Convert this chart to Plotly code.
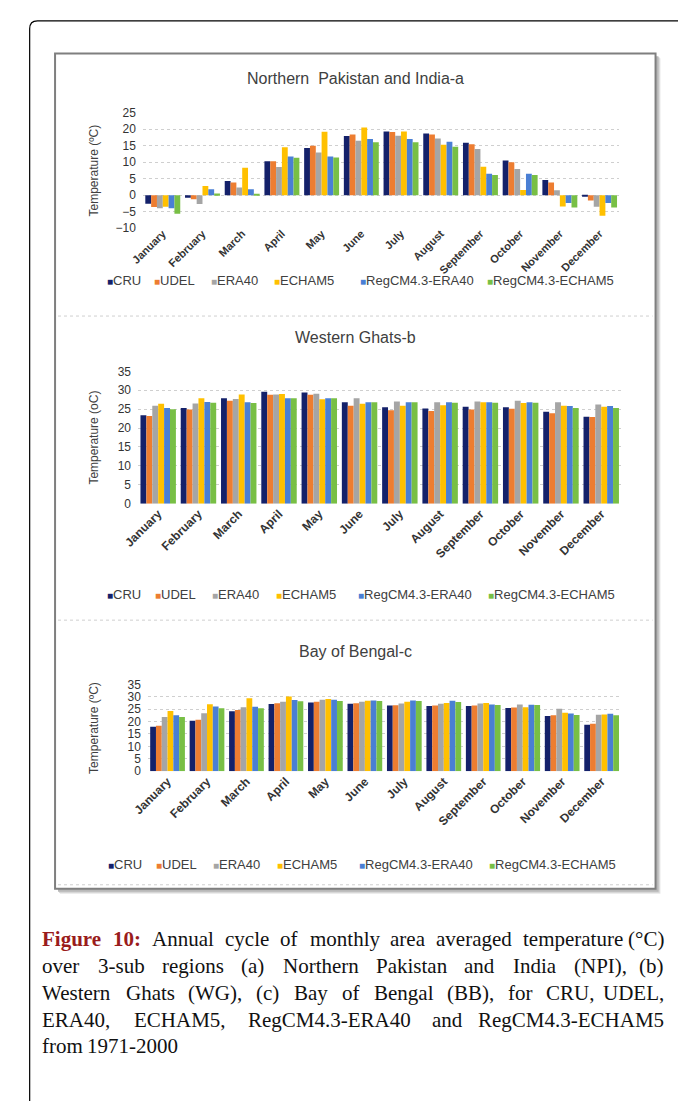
import plotly.graph_objects as go

W, H = 678, 1108


def fx(px):
    return px / W


def fy(py):
    return 1 - py / H


months = ["January", "February", "March", "April", "May", "June", "July",
          "August", "September", "October", "November", "December"]
series_names = ["CRU", "UDEL", "ERA40", "ECHAM5", "RegCM4.3-ERA40", "RegCM4.3-ECHAM5"]
series_colors = ["#14216a", "#ed7d31", "#a5a5a5", "#ffc000", "#4a7fd4", "#78bf45"]

# Northern Pakistan and India (NPI)
npi_cru = [-2.6, -0.8, 4.3, 10.3, 14.3, 17.9, 19.3, 18.7, 15.9, 10.5, 4.6, -0.4]
npi_udel = [-3.6, -1.2, 3.8, 10.3, 15.0, 18.4, 19.1, 18.4, 15.4, 10.0, 3.8, -1.6]
npi_era40 = [-4.0, -2.7, 2.3, 8.5, 12.9, 16.5, 18.0, 17.2, 14.0, 7.9, 1.5, -3.5]
npi_echam5 = [-3.5, 2.8, 8.3, 14.5, 19.2, 20.5, 19.3, 15.3, 8.6, 1.6, -3.4, -6.2]
npi_reg_era40 = [-4.0, 1.8, 1.8, 11.7, 11.7, 17.0, 17.0, 16.2, 6.5, 6.5, -2.4, -2.4]
npi_reg_echam5 = [-5.6, 0.5, 0.4, 11.3, 11.4, 16.0, 16.0, 14.7, 6.1, 6.1, -3.7, -3.7]

# Western Ghats (WG)
wg_cru = [23.4, 25.3, 27.9, 29.6, 29.4, 26.8, 25.5, 25.2, 25.6, 25.5, 24.3, 23.0]
wg_udel = [23.2, 24.9, 27.2, 28.8, 28.8, 25.9, 24.7, 24.5, 24.9, 25.1, 23.9, 22.9]
wg_era40 = [25.9, 26.5, 27.7, 28.9, 29.1, 27.9, 27.0, 26.8, 27.0, 27.2, 26.8, 26.2]
wg_echam5 = [26.4, 27.9, 28.9, 29.0, 27.6, 26.4, 25.9, 26.0, 26.8, 26.6, 25.9, 25.6]
wg_reg_era40 = [25.3, 26.9, 26.8, 27.9, 27.9, 26.8, 26.8, 26.8, 26.8, 26.8, 25.8, 25.8]
wg_reg_echam5 = [25.0, 26.7, 26.6, 27.9, 27.9, 26.8, 26.8, 26.7, 26.7, 26.7, 25.3, 25.3]

# Bay of Bengal (BB)
bb_cru = [17.9, 20.3, 24.2, 27.1, 27.7, 27.2, 26.5, 26.3, 26.3, 25.5, 22.2, 18.7]
bb_udel = [18.3, 20.7, 24.7, 27.4, 28.0, 27.4, 26.6, 26.5, 26.5, 25.7, 22.5, 19.1]
bb_era40 = [21.8, 23.4, 25.8, 28.0, 28.8, 28.0, 27.3, 27.2, 27.3, 26.9, 25.2, 22.7]
bb_echam5 = [24.3, 27.0, 29.4, 30.1, 29.1, 28.4, 28.0, 27.5, 27.5, 25.8, 23.6, 22.8]
bb_reg_era40 = [22.5, 26.1, 26.0, 28.7, 28.8, 28.5, 28.5, 28.4, 26.9, 26.8, 23.2, 23.1]
bb_reg_echam5 = [21.8, 25.4, 25.4, 28.2, 28.3, 28.3, 28.3, 27.9, 26.7, 26.7, 22.6, 22.5]

caption_lines = [
    "Figure 10: Annual cycle of monthly area averaged temperature (°C)",
    "over 3-sub regions (a) Northern Pakistan and India (NPI), (b)",
    "Western Ghats (WG), (c) Bay of Bengal (BB), for CRU, UDEL,",
    "ERA40, ECHAM5, RegCM4.3-ERA40 and RegCM4.3-ECHAM5",
    "from 1971-2000",
]

panels = [
    dict(suffix="", title="Northern  Pakistan and India-a", ytitle="Temperature (ºC)",
         data=[npi_cru, npi_udel, npi_era40, npi_echam5, npi_reg_era40, npi_reg_echam5],
         xpx=(130, 618), ypx=(107, 224), yrange=[-10, 25], month_size=11, month_pad=-4,
         title_y=72, legend_y=277, legend_x=[91, 139, 198, 262, 350, 480]),
    dict(suffix="2", title="Western Ghats-b", ytitle="Temperature (oC)",
         data=[wg_cru, wg_udel, wg_era40, wg_echam5, wg_reg_era40, wg_reg_echam5],
         xpx=(125, 620), ypx=(369, 503), yrange=[0, 35], month_size=12, month_pad=0,
         title_y=335, legend_y=595, legend_x=[91, 140, 199, 264, 348, 481]),
    dict(suffix="3", title="Bay of Bengal-c", ytitle="Temperature (ºC)",
         data=[bb_cru, bb_udel, bb_era40, bb_echam5, bb_reg_era40, bb_reg_echam5],
         xpx=(135, 620), ypx=(686, 774), yrange=[0, 35], month_size=12, month_pad=0,
         title_y=653, legend_y=868, legend_x=[92, 141, 200, 265, 349, 482]),
]

AXIS_FONT = "Arial, Liberation Sans, sans-serif"
SERIF = "Liberation Serif, Times New Roman, serif"

fig = go.Figure()
annotations = []
layout_axes = {}

for p in panels:
    sfx = p["suffix"]
    for name, color, vals in zip(series_names, series_colors, p["data"]):
        fig.add_trace(go.Bar(
            x=months, y=vals, name=name, marker_color=color,
            marker_line_width=0, showlegend=False,
            xaxis="x" + sfx, yaxis="y" + sfx,
        ))
    layout_axes["xaxis" + sfx] = dict(
        domain=[fx(p["xpx"][0]), fx(p["xpx"][1])], anchor="y" + sfx,
        type="category", showgrid=False, showline=False, zeroline=False, ticks="",
        tickangle=-45, fixedrange=True, ticklabelstandoff=p["month_pad"],
        tickfont=dict(family=AXIS_FONT, size=p["month_size"], color="#333333",
                      weight="bold"),
    )
    layout_axes["yaxis" + sfx] = dict(
        domain=[fy(p["ypx"][1]), fy(p["ypx"][0])], anchor="x" + sfx,
        range=p["yrange"], dtick=5, tick0=0, showline=False, zeroline=False,
        showgrid=True, gridcolor="#cfcfcf", griddash="dot", gridwidth=1,
        ticks="", ticklabelstandoff=6,
        tickfont=dict(family=AXIS_FONT, size=12, color="#333333"),
    )
    annotations.append(dict(
        text=p["title"], x=fx(348), y=fy(p["title_y"]), xref="paper", yref="paper",
        xanchor="center", yanchor="middle", showarrow=False,
        font=dict(family=AXIS_FONT, size=16, color="#404040"),
    ))
    annotations.append(dict(
        text=p["ytitle"], x=fx(80), y=fy((p["ypx"][0] + p["ypx"][1]) / 2),
        xref="paper", yref="paper", xanchor="center", yanchor="middle",
        textangle=-90, showarrow=False,
        font=dict(family=AXIS_FONT, size=12, color="#404040"),
    ))
    for name, color, lx in zip(series_names, series_colors, p["legend_x"]):
        annotations.append(dict(
            text=f"<span style='color:{color};font-size:10px'>■</span>{name}",
            x=fx(lx), y=fy(p["legend_y"]), xref="paper", yref="paper",
            xanchor="left", yanchor="middle", showarrow=False,
            font=dict(family=AXIS_FONT, size=13, color="#404040"),
        ))

# --- caption: justified lines, word positions from Times-style advance widths ---
TIMES = {
    "a": 444, "b": 500, "c": 444, "d": 500, "e": 444, "f": 333, "g": 500, "h": 500,
    "i": 278, "j": 278, "k": 500, "l": 278, "m": 778, "n": 500, "o": 500, "p": 500,
    "q": 500, "r": 333, "s": 389, "t": 278, "u": 500, "v": 500, "w": 722, "x": 500,
    "y": 500, "z": 444, "A": 722, "B": 667, "C": 667, "D": 722, "E": 611, "F": 556,
    "G": 722, "H": 722, "I": 333, "J": 389, "K": 722, "L": 611, "M": 889, "N": 722,
    "O": 722, "P": 556, "Q": 722, "R": 667, "S": 556, "T": 611, "U": 722, "V": 722,
    "W": 944, "X": 722, "Y": 722, "Z": 611, "(": 333, ")": 333, ",": 250, ".": 250,
    "-": 333, ":": 278, "°": 400,
}
TIMES_BOLD = {"F": 611, "i": 278, "g": 500, "u": 556, "r": 444, "e": 444, ":": 333}
CAP_SIZE = 21
CAP_LEFT, CAP_RIGHT = 25, 666
CAP_TOP, CAP_STEP = 944, 27.2


def word_width(word, bold=False):
    total = 0
    for ch in word:
        if ch.isdigit():
            total += 500
        elif bold and ch in TIMES_BOLD:
            total += TIMES_BOLD[ch]
        else:
            total += TIMES.get(ch, 500)
    return total * CAP_SIZE / 1000


for i, line in enumerate(caption_lines):
    ly = CAP_TOP + i * CAP_STEP
    words = line.split(" ")
    bold_flags = [i == 0 and k < 2 for k in range(len(words))]
    widths = [word_width(w, b) for w, b in zip(words, bold_flags)]
    last = i == len(caption_lines) - 1
    if last or len(words) == 1:
        gap = 0.25 * CAP_SIZE
    else:
        gap = (CAP_RIGHT - CAP_LEFT - sum(widths)) / (len(words) - 1)
    xpos = CAP_LEFT
    for k, (w, b, wd) in enumerate(zip(words, bold_flags, widths)):
        is_last_word = (k == len(words) - 1) and not last
        annotations.append(dict(
            text=f"<b>{w}</b>" if b else w,
            x=fx(CAP_RIGHT if is_last_word else xpos), y=fy(ly),
            xref="paper", yref="paper",
            xanchor="right" if is_last_word else "left", yanchor="middle",
            showarrow=False,
            font=dict(family=SERIF, size=CAP_SIZE, color="#9a1c1c" if b else "#111111"),
        ))
        xpos += wd + gap

shapes = []
# outer rounded frame, open to the right and bottom
r = 8
path = (f"M {fx(14)},{fy(1108)} L {fx(14)},{fy(14 + r)} "
        f"Q {fx(14)},{fy(14)} {fx(14 + r)},{fy(14)} L {fx(678)},{fy(14)}")
shapes.append(dict(type="path", path=path, xref="paper", yref="paper",
                   line=dict(color="#000000", width=1.2), layer="below"))
# soft drop shadow of the chart picture
for off, col in [(5, "#e6e6e6"), (4, "#d2d2d2"), (3, "#b8b8b8")]:
    shapes.append(dict(type="rect", xref="paper", yref="paper",
                       x0=fx(40 + off), x1=fx(655 + off), y0=fy(893 + off), y1=fy(47 + off),
                       fillcolor=col, line=dict(width=0), layer="below"))
shapes.append(dict(type="rect", xref="paper", yref="paper",
                   x0=fx(40), x1=fx(655), y0=fy(893), y1=fy(47),
                   fillcolor="#ffffff", line=dict(color="#7f7f7f", width=2), layer="below"))
# dotted borders between the three chart areas
for sy in (313, 621, 889):
    shapes.append(dict(type="line", xref="paper", yref="paper",
                       x0=fx(43), x1=fx(652), y0=fy(sy), y1=fy(sy),
                       line=dict(color="#cfcfcf", width=1, dash="dot"), layer="below"))

fig.update_layout(
    width=W, height=H, margin=dict(l=0, r=0, t=0, b=0),
    paper_bgcolor="#ffffff", plot_bgcolor="rgba(0,0,0,0)",
    barmode="group", bargap=0.12, bargroupgap=0,
    showlegend=False, annotations=annotations, shapes=shapes,
    **layout_axes,
)

fig.write_html("out.html", config={"displayModeBar": False})
